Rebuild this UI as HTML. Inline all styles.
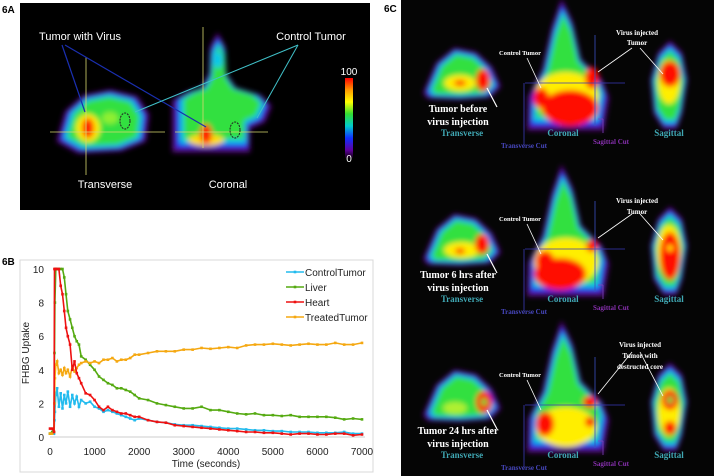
<!DOCTYPE html>
<html><head><meta charset="utf-8"><style>
html,body{margin:0;padding:0;background:#fff;width:714px;height:476px;overflow:hidden}
svg{display:block;font-family:"Liberation Sans",sans-serif}
.sf{font-family:"Liberation Serif",serif;font-weight:bold}
</style></head><body>
<svg id="root" width="714" height="476" viewBox="0 0 714 476">
<defs>
<filter id="bl" x="-30%" y="-30%" width="160%" height="160%"><feGaussianBlur stdDeviation="2.6"/></filter>
<filter id="bl2" x="-30%" y="-30%" width="160%" height="160%"><feGaussianBlur stdDeviation="1.6"/></filter>
<linearGradient id="cbar" x1="0" y1="0" x2="0" y2="1">
<stop offset="0" stop-color="#ff0000"/><stop offset="0.15" stop-color="#ff9900"/><stop offset="0.3" stop-color="#ffff00"/>
<stop offset="0.45" stop-color="#33dd33"/><stop offset="0.6" stop-color="#00cccc"/><stop offset="0.75" stop-color="#1030ff"/>
<stop offset="0.9" stop-color="#6000a0"/><stop offset="1" stop-color="#100010"/></linearGradient>
</defs>
<text x="2" y="13" font-size="10" font-weight="bold">6A</text>
<text x="2" y="265" font-size="10" font-weight="bold">6B</text>
<text x="384" y="12" font-size="10" font-weight="bold">6C</text>
<rect x="20" y="3" width="350" height="207" fill="#000"/>
<rect x="401" y="0" width="313" height="476" fill="#050505"/>
<g id="img6a"></g>
<g id="img6c"></g>
<g id="ann">
<!-- 6A overlays -->
<line x1="50" y1="132" x2="165" y2="132" stroke="#d8d870" stroke-width="0.8"/>
<line x1="86" y1="57" x2="86" y2="175" stroke="#d8d870" stroke-width="0.8"/>
<line x1="175" y1="132" x2="268" y2="132" stroke="#d8d870" stroke-width="0.8"/>
<line x1="203" y1="27" x2="203" y2="148" stroke="#d8d870" stroke-width="0.8"/>
<ellipse cx="125" cy="121" rx="5" ry="8" fill="none" stroke="#222" stroke-dasharray="2 1"/>
<ellipse cx="235" cy="130" rx="5" ry="8" fill="none" stroke="#222" stroke-dasharray="2 1"/>
<line x1="62" y1="45" x2="85" y2="112" stroke="#1a2fb0" stroke-width="1.2"/>
<line x1="65" y1="45" x2="206" y2="127" stroke="#1a2fb0" stroke-width="1.2"/>
<line x1="298" y1="45" x2="135" y2="112" stroke="#40c0c8" stroke-width="1"/>
<line x1="298" y1="45" x2="257" y2="118" stroke="#40c0c8" stroke-width="1"/>
<rect x="345" y="78" width="8" height="80" fill="url(#cbar)"/>
<g fill="#fff" font-size="11">
<text x="80" y="40" text-anchor="middle">Tumor with Virus</text>
<text x="311" y="40" text-anchor="middle">Control Tumor</text>
<text x="105" y="188" text-anchor="middle">Transverse</text>
<text x="228" y="188" text-anchor="middle">Coronal</text>
<text x="349" y="75" text-anchor="middle" font-size="10">100</text>
<text x="349" y="162" text-anchor="middle" font-size="10">0</text>
</g>
</g>
<g id="ann6c" class="sf"></g>
<g id="chart"></g>
</svg>
<script>
// ===== Chart data (6B) =====
const times=[0,50,90,100,110,130,160,200,240,280,320,360,400,450,500,550,600,650,700,800,900,1000,1100,1200,1300,1400,1500,1600,1700,1800,1900,2000,2200,2400,2600,2800,3000,3200,3400,3600,3800,4000,4200,4400,4600,4800,5000,5200,5400,5600,5800,6000,6200,6400,6600,6800,7000];
const controlTumor=[0.2,0.3,0.2,1.0,1.5,2.5,2.9,1.8,2.6,1.7,2.5,2.0,2.7,1.8,2.5,2.0,2.4,1.8,2.2,2.0,2.1,1.8,1.7,1.5,1.6,1.5,1.4,1.3,1.2,1.1,1.0,1.1,1.0,0.9,0.85,0.75,0.7,0.7,0.65,0.6,0.55,0.5,0.5,0.45,0.4,0.4,0.35,0.35,0.3,0.3,0.3,0.25,0.25,0.25,0.3,0.2,0.2];
const liver=[0.2,0.3,0.3,5,8,10,10,10,10,10,9.5,8.5,7.5,7,6.5,6,5.7,5.5,4.8,4.6,4.3,4,3.6,3.4,3.2,3.1,2.9,2.9,2.8,2.7,2.5,2.3,2.2,2.0,1.9,1.8,1.7,1.7,1.8,1.6,1.6,1.5,1.4,1.35,1.4,1.3,1.3,1.25,1.3,1.2,1.2,1.2,1.2,1.15,1.05,1.1,1.05];
const heart=[0.5,0.5,0.3,10,10,10,10,10,9,8.5,7.5,6.5,6,5.5,4,4.5,3.8,3.5,3.2,2.6,2.5,2.2,1.8,1.6,1.8,1.6,1.5,1.4,1.4,1.3,1.2,1.2,1.0,0.9,0.85,0.7,0.65,0.6,0.55,0.5,0.45,0.4,0.35,0.3,0.3,0.25,0.25,0.2,0.15,0.2,0.2,0.15,0.15,0.2,0.2,0.1,0.15];
const treatedTumor=[0.2,0.2,0.3,2,3.5,4.3,4.5,3.8,4.0,3.7,4.1,3.8,4.0,3.6,4.2,3.9,4.1,4.3,4.4,4.5,4.4,4.5,4.4,4.6,4.6,4.7,4.5,4.6,4.6,4.7,4.9,4.9,5.0,5.1,5.1,5.1,5.2,5.2,5.3,5.25,5.3,5.35,5.3,5.45,5.5,5.5,5.55,5.5,5.45,5.5,5.55,5.5,5.5,5.6,5.5,5.5,5.6];
const seriesNames=["ControlTumor","Liver","Heart","TreatedTumor"];
const yTicks=[0,2,4,6,8,10];
const xTicks=[0,1000,2000,3000,4000,5000,6000,7000];

const NS="http://www.w3.org/2000/svg";
function mk(tag,attrs,parent){const e=document.createElementNS(NS,tag);for(const k in attrs)e.setAttribute(k,attrs[k]);if(parent)parent.appendChild(e);return e;}
const X=t=>50+t*(312/7000);
const Y=v=>437-v*16.8;
const chart=document.getElementById('chart');
let e=mk('rect',{x:20,y:260,width:353,height:212,fill:'none',stroke:'#d8d8d8','stroke-width':1},chart);


yTicks.forEach(v=>{
  const t=mk('text',{x:44,y:Y(v)+4,'text-anchor':'end','font-size':10,fill:'#222'},chart);t.textContent=v;
  
  
});
xTicks.forEach(v=>{
  const t=mk('text',{x:X(v),y:455,'text-anchor':'middle','font-size':10,fill:'#222'},chart);t.textContent=v;
  
  
});
e=mk('line',{x1:50,y1:437,x2:365,y2:437,stroke:'#bbb','stroke-width':0.8},chart);


e=mk('text',{x:206,y:467,'text-anchor':'middle','font-size':10,fill:'#222'},chart);e.textContent='Time (seconds)';


e=mk('text',{x:29,y:353,'text-anchor':'middle','font-size':10,fill:'#222',transform:'rotate(-90 29 353)'},chart);e.textContent='FHBG Uptake';


const colors=['#22bbee','#55aa11','#ee1111','#f5a811'];
const allSeries=[controlTumor,liver,heart,treatedTumor];
const order=[0,1,3,2];
order.forEach(si=>{
  const vals=allSeries[si];
  const g=mk('g',{},chart);
  
  
  const pts=times.map((t,i)=>X(t).toFixed(1)+','+Y(vals[i]).toFixed(1)).join(' ');
  const pl=mk('polyline',{points:pts,fill:'none',stroke:colors[si],'stroke-width':1.6},g);
  
  
  times.forEach((t,i)=>{
    const m=mk('rect',{x:X(t)-1.3,y:Y(vals[i])-1.3,width:2.6,height:2.6,fill:colors[si]},g);
    
    
  });
});
seriesNames.forEach((n,i)=>{
  const y=272+i*15;
  const g=mk('g',{},chart);
  
  
  mk('line',{x1:286,y1:y,x2:304,y2:y,stroke:colors[i],'stroke-width':1.6},g);
  mk('rect',{x:293.7,y:y-1.3,width:2.6,height:2.6,fill:colors[i]},g);
  const t=mk('text',{x:305,y:y+4,'font-size':10,fill:'#222'},g);t.textContent=n;
});

// ===== Heatmap blobs (decorative images) =====
function poly(pts,dx,dy){return pts.map(p=>(p[0]+dx)+','+(p[1]+dy)).join(' ');}
function blob(parent,pts,dx,dy,spots,name){
  const g=mk('g',{filter:'url(#bl)'},parent);
  
  
  let cx=0,cy=0;pts.forEach(p=>{cx+=p[0];cy+=p[1];});cx=cx/pts.length+dx;cy=cy/pts.length+dy;
  [['#5a0a80',1.08],['#1a2af0',1.0],['#10c8e8',0.92],['#30e040',0.84]].forEach(([c,s])=>{
    mk('polygon',{points:poly(pts,dx,dy),fill:c,transform:`translate(${cx} ${cy}) scale(${s}) translate(${-cx} ${-cy})`},g);
  });
  spots.forEach(s=>mk('ellipse',{cx:s[0]+dx,cy:s[1]+dy,rx:s[2],ry:s[3],fill:s[4]},g));
}
const A=document.getElementById('img6a');
blob(A,[[60,140],[68,112],[85,97],[110,92],[135,98],[146,115],[143,140],[120,149],[80,151]],0,0,
 [[88,128,12,14,'#ffee00'],[88,128,6,10,'#ff1a00'],[110,118,8,6,'#90f030']],'transverse-image');
blob(A,[[176,100],[190,92],[203,88],[210,75],[211,50],[218,37],[225,50],[226,75],[235,88],[258,95],[268,105],[262,120],[248,126],[248,148],[176,148]],0,0,
 [[206,140,18,6,'#ffdd00'],[206,134,6,10,'#ff1a00'],[218,60,5,8,'#10c8e8']],'coronal-image');
const C=document.getElementById('img6c');
const tr=[[426,92],[438,64],[455,50],[475,54],[490,68],[498,86],[488,96],[460,98],[430,97]];
const co=[[530,126],[531,95],[544,70],[553,30],[562,4],[572,25],[580,60],[600,80],[606,96],[601,126]];
const sa=[[655,112],[652,80],[659,55],[670,44],[681,55],[686,80],[681,112],[676,126],[664,126]];
const rows=[0,166,322];
const trSpots=[[[460,83,16,8,'#ffee00'],[460,83,6,3,'#ff2000'],[483,80,7,11,'#ff1000']],
 [[462,84,18,8,'#ffee00'],[460,85,5,3,'#ff2000'],[482,78,7,10,'#ff1000']],
 [[455,86,12,6,'#b0f030'],[484,80,8,11,'#ff1000'],[484,80,3,4,'#30e040']]];
const coSpots=[[[566,96,32,24,'#ffee00'],[570,108,28,18,'#ff1000'],[541,98,8,10,'#ff1000'],[592,78,7,11,'#ff1000']],
 [[566,96,32,24,'#ffee00'],[560,108,26,16,'#ff1000'],[545,95,9,10,'#ff1000'],[592,80,6,6,'#ff1000']],
 [[566,105,30,20,'#ffee00'],[545,102,9,12,'#ff1000'],[590,80,7,6,'#ff1000'],[590,100,5,5,'#ff1000']]];
const saSpots=[[[669,82,11,22,'#ffee00'],[670,74,10,13,'#ff1000']],
 [[669,85,12,26,'#ffee00'],[670,90,10,24,'#ff1000'],[670,82,3,3,'#ffee00']],
 [[669,90,11,24,'#ffee00'],[670,78,8,10,'#ff1000'],[670,78,3,4,'#30e040'],[670,106,6,7,'#ff1000']]];
rows.forEach((dy,r)=>{
  blob(C,tr,0,dy,trSpots[r].map(s=>[s[0],s[1],s[2],s[3],s[4]]),'transverse-image-row'+(r+1));
  blob(C,co,0,dy,coSpots[r],'coronal-image-row'+(r+1));
  blob(C,sa,0,dy,saSpots[r],'sagittal-image-row'+(r+1));
});
// 6C annotations
const N=document.getElementById('ann6c');
function txt(x,y,s,size,fill,name){const t=mk('text',{x:x,y:y,'font-size':size,fill:fill,'text-anchor':'middle'},N);t.textContent=s;
  
  }
function ln(x1,y1,x2,y2,c,w,name){const l=mk('line',{x1,y1,x2,y2,stroke:c,'stroke-width':w},N);
  
  }
const tumorLines=[["Tumor before","virus injection"],["Tumor 6 hrs after","virus injection"],["Tumor 24 hrs after","virus injection"]];
rows.forEach((dy,r)=>{
  ln(525,83+dy,625,83+dy,'#3a3ab8',0.8,'transverse-cut-line');
  ln(524,83+dy,524,145+dy,'#3a3ab8',0.8,'transverse-cut-arrow');
  ln(595,35+dy,595,126+dy,'#3a50c0',0.8,'sagittal-cut-line');
  ln(598,119+dy,603,119+dy,'#8040c0',0.8,'sagittal-cut-bracket');
  ln(603,119+dy,603,133+dy,'#8040c0',0.8,'sagittal-cut-bracket');
  ln(527,58+dy,541,88+dy,'#fff',0.8,'control-tumor-pointer');
  ln(632,48+dy+(r==2?-18:0),598,72+dy,'#fff',0.8,'virus-tumor-pointer');
  ln(640,48+dy+(r==2?-18:0),663,74+dy,'#fff',0.8,'sagittal-tumor-pointer');
  ln(497,107+dy,487,88+dy,'#fff',1.2,'tumor-pointer');
  txt(462,136+dy,'Transverse',9,'#40a8b4','transverse-label');
  txt(563,136+dy,'Coronal',9,'#40a8b4','coronal-label');
  txt(669,136+dy,'Sagittal',9,'#40a8b4','sagittal-label');
  txt(524,148+dy,'Transverse Cut',7,'#4848c0','transverse-cut-label');
  txt(611,144+dy,'Sagittal Cut',7,'#8830b0','sagittal-cut-label');
  txt(520,55+dy,'Control Tumor',6.5,'#fff','control-tumor-label');
  txt(458,112+dy,tumorLines[r][0],10,'#fff','tumor-state-label');
  txt(458,125+dy,tumorLines[r][1],10,'#fff','tumor-state-label');
});
txt(637,35,'Virus injected',7,'#fff','virus-label');txt(637,45,'Tumor',7,'#fff','virus-label');
txt(637,203,'Virus injected',7,'#fff','virus-label');txt(637,214,'Tumor',7,'#fff','virus-label');
txt(640,347,'Virus injected',7,'#fff','virus-label');txt(640,358,'Tumor with',7,'#fff','virus-label');txt(640,369,'destructed core',7,'#fff','virus-label');
</script>
</body></html>
